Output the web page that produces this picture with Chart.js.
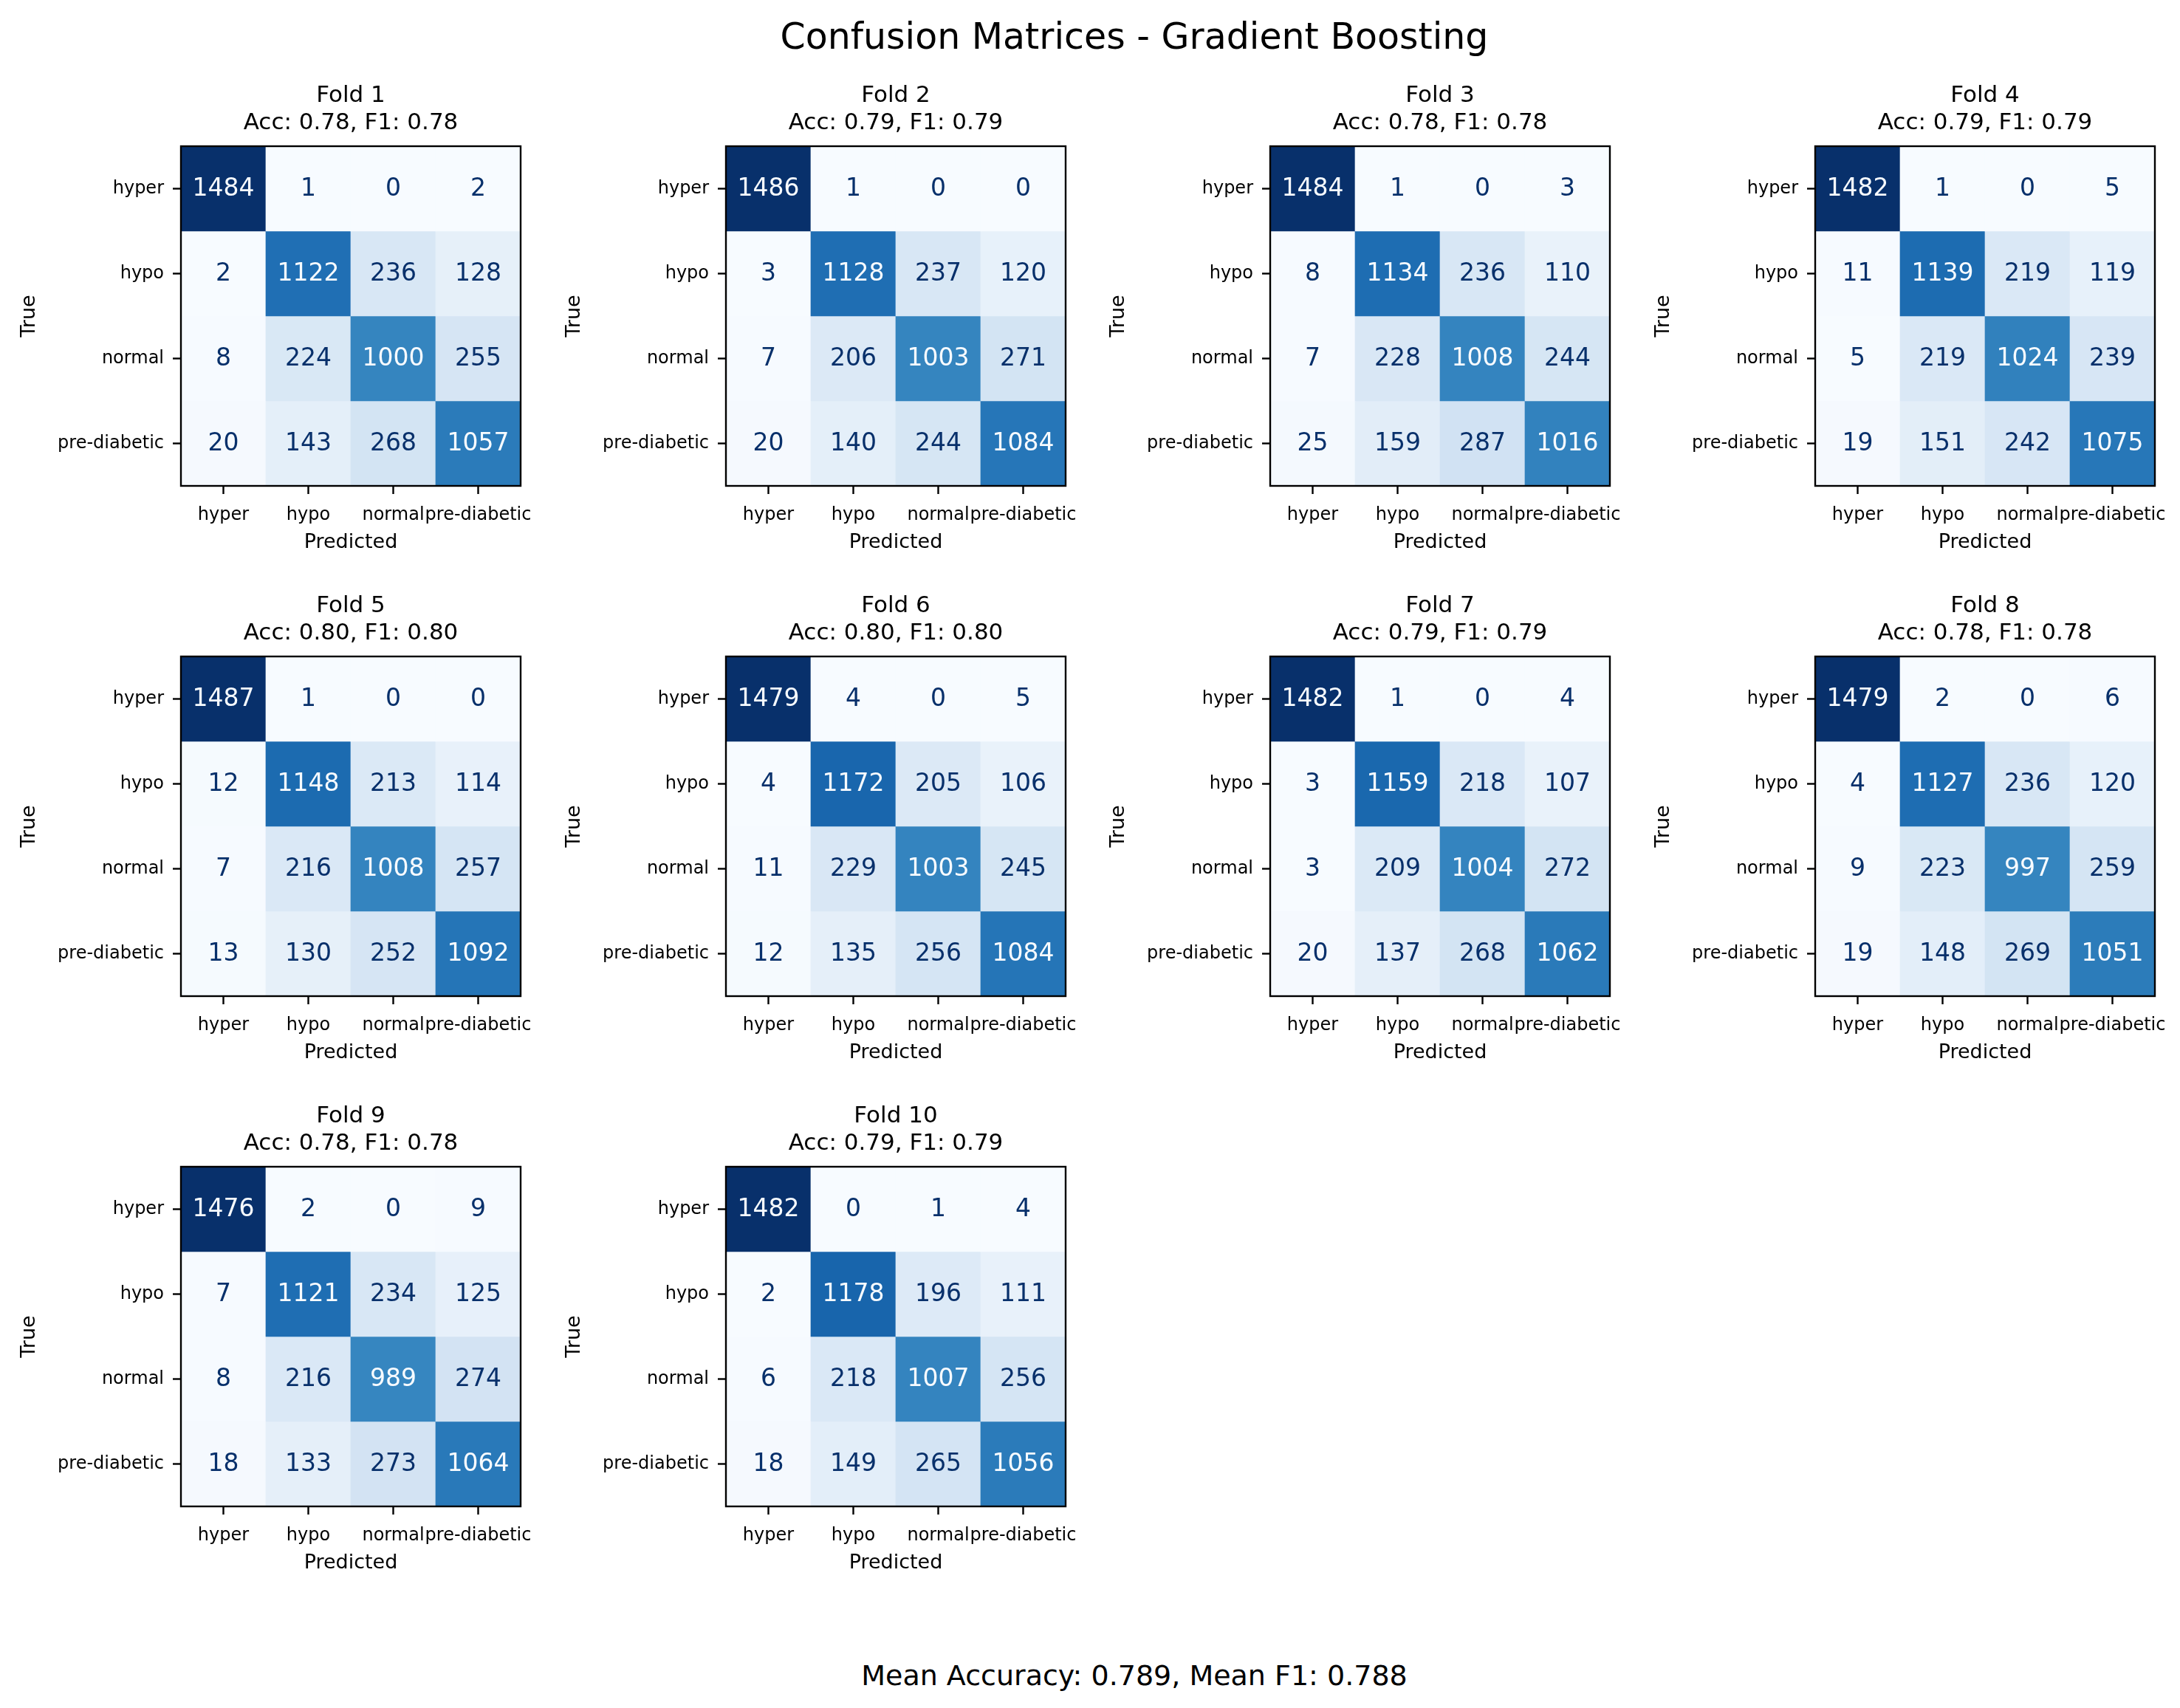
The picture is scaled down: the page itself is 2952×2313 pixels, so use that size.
<!DOCTYPE html>
<html>
<head>
<meta charset="utf-8">
<script src="https://cdn.jsdelivr.net/npm/chart.js@4.4.1/dist/chart.umd.min.js"></script>
<style>
  html, body { margin:0; padding:0; background:#fff; }
  body { width:2952px; height:2313px; position:relative; overflow:hidden; font-family:'DejaVu Sans', sans-serif; }
  .ftext { position:absolute; transform:translate(-50%,-50%); white-space:nowrap; color:#000; line-height:1; }
  canvas { position:absolute; }
</style>
</head>
<body>
<div id="suptitle" class="ftext" style="left:1536px; top:49px; font-size:49px;"></div>
<div id="footer" class="ftext" style="left:1536px; top:2269px; font-size:38px;"></div>
<script>
// ---------------- data ----------------
const classLabels = ['hyper', 'hypo', 'normal', 'pre-diabetic'];
const foldNames = ['Fold 1', 'Fold 2', 'Fold 3', 'Fold 4', 'Fold 5', 'Fold 6', 'Fold 7', 'Fold 8', 'Fold 9', 'Fold 10'];
const foldAcc = [0.78, 0.79, 0.78, 0.79, 0.80, 0.80, 0.79, 0.78, 0.78, 0.79];
const foldF1  = [0.78, 0.79, 0.78, 0.79, 0.80, 0.80, 0.79, 0.78, 0.78, 0.79];
const fold1  = [[1484, 1, 0, 2], [2, 1122, 236, 128], [8, 224, 1000, 255], [20, 143, 268, 1057]];
const fold2  = [[1486, 1, 0, 0], [3, 1128, 237, 120], [7, 206, 1003, 271], [20, 140, 244, 1084]];
const fold3  = [[1484, 1, 0, 3], [8, 1134, 236, 110], [7, 228, 1008, 244], [25, 159, 287, 1016]];
const fold4  = [[1482, 1, 0, 5], [11, 1139, 219, 119], [5, 219, 1024, 239], [19, 151, 242, 1075]];
const fold5  = [[1487, 1, 0, 0], [12, 1148, 213, 114], [7, 216, 1008, 257], [13, 130, 252, 1092]];
const fold6  = [[1479, 4, 0, 5], [4, 1172, 205, 106], [11, 229, 1003, 245], [12, 135, 256, 1084]];
const fold7  = [[1482, 1, 0, 4], [3, 1159, 218, 107], [3, 209, 1004, 272], [20, 137, 268, 1062]];
const fold8  = [[1479, 2, 0, 6], [4, 1127, 236, 120], [9, 223, 997, 259], [19, 148, 269, 1051]];
const fold9  = [[1476, 2, 0, 9], [7, 1121, 234, 125], [8, 216, 989, 274], [18, 133, 273, 1064]];
const fold10 = [[1482, 0, 1, 4], [2, 1178, 196, 111], [6, 218, 1007, 256], [18, 149, 265, 1056]];
const foldMatrices = [fold1, fold2, fold3, fold4, fold5, fold6, fold7, fold8, fold9, fold10];
const meanAcc = 0.789;
const meanF1 = 0.788;
const figTitle = 'Confusion Matrices - Gradient Boosting';
const xAxisTitle = 'Predicted';
const yAxisTitle = 'True';

// ---------------- style / layout ----------------
const FONT = 'DejaVu Sans';
const BLUES = ['#f7fbff','#deebf7','#c6dbef','#9ecae1','#6baed6','#4292c6','#2171b5','#08519c','#08306b'];
const colCanvasLeft = [0, 738, 1475, 2213];
const rowCanvasTop = [48, 739, 1430];
const CW = 738, CH = 724;
const AREA_RIGHT = 705;   // chart area right edge inside a canvas (left = 245, size 460)

function hexToRgb(h) { return [parseInt(h.slice(1,3),16), parseInt(h.slice(3,5),16), parseInt(h.slice(5,7),16)]; }
const BLUES_RGB = BLUES.map(hexToRgb);
function blues(t) {
  t = Math.max(0, Math.min(1, t));
  let idx = Math.min(255, Math.floor(t * 256));
  const u = idx / 255 * (BLUES_RGB.length - 1);
  const i = Math.min(BLUES_RGB.length - 2, Math.floor(u));
  const f = u - i;
  const a = BLUES_RGB[i], b = BLUES_RGB[i + 1];
  const c = a.map((v, k) => Math.round(v + (b[k] - v) * f));
  return `rgb(${c[0]},${c[1]},${c[2]})`;
}

document.getElementById('suptitle').textContent = figTitle;
document.getElementById('footer').textContent = `Mean Accuracy: ${meanAcc.toFixed(3)}, Mean F1: ${meanF1.toFixed(3)}`;

Chart.defaults.font.family = FONT;
Chart.defaults.color = '#000';

const frameAndText = {
  id: 'frameAndText',
  afterDatasetsDraw(chart) {
    const ctx = chart.ctx;
    const vals = [];
    chart.data.datasets.forEach(ds => ds.data.forEach(d => vals.push(d.v)));
    const mn = Math.min(...vals), mx = Math.max(...vals);
    const thresh = (mx + mn) / 2;
    ctx.save();
    ctx.font = `33px "${FONT}"`;
    ctx.textAlign = 'center';
    ctx.textBaseline = 'middle';
    chart.data.datasets.forEach((ds, di) => {
      const meta = chart.getDatasetMeta(di);
      meta.data.forEach((el, j) => {
        const p = el.getProps(['x', 'y', 'base'], true);
        const v = ds.data[j].v;
        ctx.fillStyle = v > thresh ? BLUES[0] : BLUES[8];
        ctx.fillText(String(v), p.x, (p.y + p.base) / 2 + 1);
      });
    });
    const a = chart.chartArea;
    ctx.strokeStyle = '#000';
    ctx.lineWidth = 2.4;
    ctx.strokeRect(a.left, a.top, a.right - a.left, a.bottom - a.top);
    ctx.restore();
  }
};

foldMatrices.forEach((matrix, k) => {
  const col = k % 4, row = Math.floor(k / 4);
  const cv = document.createElement('canvas');
  const w = col === 3 ? 739 : CW;
  cv.width = w; cv.height = CH;
  cv.style.left = colCanvasLeft[col] + 'px';
  cv.style.top = rowCanvasTop[row] + 'px';
  cv.style.width = w + 'px'; cv.style.height = CH + 'px';
  document.body.appendChild(cv);

  const flat = matrix.flat();
  const mn = Math.min(...flat), mx = Math.max(...flat);
  const datasets = matrix.map((rowVals, r) => ({
    label: classLabels[r],
    data: rowVals.map((v, c) => ({ x: classLabels[c], y: [r, r + 1], v })),
    backgroundColor: (ctx) => blues((ctx.raw.v - mn) / (mx - mn)),
    borderWidth: 0,
    barPercentage: 1,
    categoryPercentage: 1,
    grouped: false
  }));

  new Chart(cv, {
    type: 'bar',
    data: { labels: classLabels, datasets },
    options: {
      responsive: false,
      animation: false,
      devicePixelRatio: 1,
      layout: { padding: { left: 0, right: w - AREA_RIGHT, top: 0, bottom: 0 } },
      plugins: {
        legend: { display: false },
        tooltip: { enabled: false },
        title: {
          display: true,
          fullSize: false,
          text: [foldNames[k], `Acc: ${foldAcc[k].toFixed(2)}, F1: ${foldF1[k].toFixed(2)}`],
          color: '#000',
          font: { family: FONT, size: 31, weight: 'normal', lineHeight: 37 / 31 },
          padding: { top: 63.5, bottom: 12.5 }
        }
      },
      scales: {
        x: {
          type: 'category',
          offset: true,
          border: { display: false },
          grid: { display: true, drawOnChartArea: false, drawTicks: true, offset: false, tickLength: 11, tickWidth: 2.4, tickColor: '#000' },
          ticks: { autoSkip: false, maxRotation: 0, minRotation: 0, padding: 14, color: '#000', font: { family: FONT, size: 24 } },
          title: { display: true, text: xAxisTitle, color: '#000', font: { family: FONT, size: 27 }, padding: { top: 0, bottom: 21 } },
          afterFit(scale) { scale.height = 114; }
        },
        y: {
          type: 'linear',
          min: 0, max: 4,
          reverse: true,
          border: { display: false },
          grid: { display: true, drawOnChartArea: false, drawTicks: true, tickLength: 11, tickWidth: 2.4, tickColor: '#000' },
          afterBuildTicks(scale) { scale.ticks = classLabels.map((_, i) => ({ value: i + 0.5 })); },
          ticks: { autoSkip: false, padding: 12, color: '#000', font: { family: FONT, size: 24 },
                   callback: (value) => classLabels[Math.floor(value)] },
          title: { display: true, text: yAxisTitle, color: '#000', font: { family: FONT, size: 27 }, padding: { top: 24, bottom: 0 } },
          afterFit(scale) { scale.width = 245; }
        }
      }
    },
    plugins: [frameAndText]
  });
});
</script>
</body>
</html>
